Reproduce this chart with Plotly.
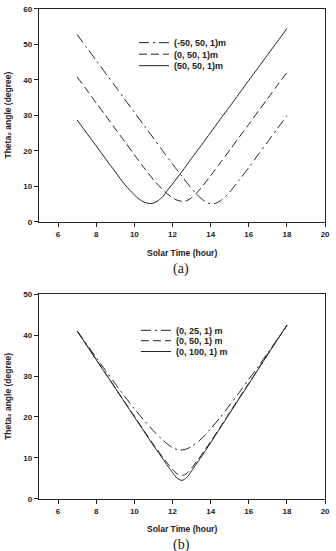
import plotly.graph_objects as go

# ---------------- data ----------------
# Panel (a)
TIME_A_DD = [7, 7.5, 8, 8.5, 9, 9.5, 10, 10.5, 11, 11.5, 12, 12.5, 13, 13.25, 13.5, 13.75, 14, 14.25, 14.5, 14.75, 15, 15.5, 16, 16.5, 17, 17.5, 18]
VAL_A_DD = [52.8, 49.1, 45.5, 41.8, 38.2, 34.5, 30.9, 27.2, 23.6, 19.9, 16.3, 12.8, 9.4, 7.9, 6.6, 5.6, 5.1, 5.2, 5.9, 7.0, 8.4, 11.8, 15.3, 19.0, 22.6, 26.3, 29.9]

TIME_A_DASH = [7, 7.5, 8, 8.5, 9, 9.5, 10, 10.5, 11, 11.5, 11.75, 12, 12.25, 12.5, 12.75, 13, 13.25, 13.5, 14, 14.5, 15, 15.5, 16, 16.5, 17, 17.5, 18]
VAL_A_DASH = [40.8, 37.2, 33.5, 29.9, 26.2, 22.6, 18.9, 15.3, 11.9, 9.0, 7.8, 6.8, 6.1, 5.8, 6.0, 6.8, 8.0, 9.6, 13.0, 16.6, 20.2, 23.9, 27.5, 31.2, 34.8, 38.5, 42.1]

TIME_A_SOLID = [7, 7.5, 8, 8.5, 9, 9.5, 10, 10.25, 10.5, 10.75, 11, 11.25, 11.5, 11.75, 12, 12.5, 13, 13.5, 14, 14.5, 15, 15.5, 16, 16.5, 17, 17.5, 18]
VAL_A_SOLID = [28.7, 25.0, 21.4, 17.7, 14.1, 10.5, 7.6, 6.4, 5.6, 5.2, 5.3, 6.0, 7.2, 9.0, 10.7, 14.2, 17.9, 21.5, 25.2, 28.9, 32.5, 36.2, 39.9, 43.5, 47.2, 50.8, 54.5]

NAMES_A = ["(-50, 50, 1)m", "(0, 50, 1)m", "(50, 50, 1)m"]

# Panel (b)
TIME_B_DD = [7, 7.5, 8, 8.5, 9, 9.5, 10, 10.5, 11, 11.5, 12, 12.35, 12.75, 13, 13.5, 14, 14.5, 15, 15.5, 16, 16.5, 17, 17.5, 18]
VAL_B_DD = [41.0, 37.8, 34.5, 31.3, 28.1, 25.0, 22.0, 19.2, 16.6, 14.3, 12.5, 11.9, 12.2, 12.8, 14.6, 17.1, 19.9, 22.9, 26.0, 29.2, 32.4, 35.7, 39.0, 42.4]

TIME_B = [7, 7.5, 8, 8.5, 9, 9.5, 10, 10.5, 11, 11.5, 11.75, 12, 12.25, 12.5, 12.75, 13, 13.25, 13.5, 14, 14.5, 15, 15.5, 16, 16.5, 17, 17.5, 18]
VAL_B_DASH = [41.0, 37.5, 34.0, 30.6, 27.1, 23.6, 20.2, 16.7, 13.3, 10.1, 8.6, 7.2, 6.1, 5.7, 6.2, 7.5, 9.0, 10.6, 14.0, 17.5, 21.1, 24.7, 28.2, 31.8, 35.4, 38.9, 42.4]
VAL_B_SOLID = [41.0, 37.5, 34.0, 30.5, 27.0, 23.5, 20.0, 16.5, 13.0, 9.7, 8.0, 6.4, 5.0, 4.5, 5.2, 6.8, 8.5, 10.2, 13.7, 17.3, 20.9, 24.5, 28.1, 31.7, 35.3, 38.9, 42.4]

NAMES_B = ["(0, 25, 1) m", "(0, 50, 1) m", "(0, 100, 1) m"]

X_TICKS = [6, 8, 10, 12, 14, 16, 18, 20]
Y_TICKS_A = [0, 10, 20, 30, 40, 50, 60]
Y_TICKS_B = [0, 10, 20, 30, 40, 50]

X_TITLE = "Solar Time (hour)"
Y_TITLE = "Theta\u2082 angle (degree)"

# ---------------- layout helpers ----------------
W, H = 336, 551
def fx(p):
    return p / W
def fy(p):
    return 1 - p / H

SANS = "Liberation Sans, Arial, sans-serif"
SERIF = "Liberation Serif, Times New Roman, serif"
INK = "#222222"

DASHDOT = "10px,4px,2px,4px"
DASH = "8px,4px"

fig = go.Figure()

series = [
    (TIME_A_DD, VAL_A_DD, NAMES_A[0], DASHDOT, "x", "y", "legend"),
    (TIME_A_DASH, VAL_A_DASH, NAMES_A[1], DASH, "x", "y", "legend2"),
    (TIME_A_SOLID, VAL_A_SOLID, NAMES_A[2], "solid", "x", "y", "legend3"),
    (TIME_B_DD, VAL_B_DD, NAMES_B[0], DASHDOT, "x2", "y2", "legend4"),
    (TIME_B, VAL_B_DASH, NAMES_B[1], DASH, "x2", "y2", "legend5"),
    (TIME_B, VAL_B_SOLID, NAMES_B[2], "solid", "x2", "y2", "legend6"),
]
for xs, ys, nm, dsh, xa, ya, lg in series:
    fig.add_trace(go.Scatter(
        x=xs, y=ys, mode="lines", name=nm,
        line=dict(color=INK, width=1, dash=dsh, shape="spline", smoothing=0.8),
        xaxis=xa, yaxis=ya, legend=lg, showlegend=True,
    ))

tickfont = dict(family=SANS, size=8, color=INK, weight="bold")

def xaxis(anchor):
    return dict(
        domain=[fx(39.6), fx(330)], range=[5, 20], anchor=anchor,
        tickmode="array", tickvals=X_TICKS, ticks="outside", ticklen=4,
        tickwidth=1, tickcolor=INK, showline=True, linecolor=INK, linewidth=1.3,
        mirror=True, showgrid=False, zeroline=False, tickfont=tickfont,
    )

def yaxis(anchor, dom, rng, tv):
    return dict(
        domain=dom, range=rng, anchor=anchor,
        tickmode="array", tickvals=tv, ticks="outside", ticklen=4,
        tickwidth=1, tickcolor=INK, showline=True, linecolor=INK, linewidth=1.3,
        mirror=True, showgrid=False, zeroline=False, tickfont=tickfont,
    )

legfont = dict(family=SANS, size=9, color=INK, weight="bold")

def leg(xp, yp):
    return dict(x=fx(xp), y=fy(yp), xanchor="left", yanchor="middle",
                bgcolor="rgba(0,0,0,0)", borderwidth=0, font=legfont,
                itemclick=False, itemdoubleclick=False)

ann_font = dict(family=SANS, size=8.5, color=INK, weight="bold")
annotations = [
    dict(text=X_TITLE, x=fx(184.8), y=fy(253), xref="paper", yref="paper",
         showarrow=False, font=ann_font, xanchor="center", yanchor="middle"),
    dict(text=X_TITLE, x=fx(184.8), y=fy(534), xref="paper", yref="paper",
         showarrow=False, font=ann_font, xanchor="center", yanchor="middle"),
    dict(text=Y_TITLE, x=fx(8.5), y=fy(113), xref="paper", yref="paper",
         showarrow=False, font=ann_font, textangle=-90, xanchor="center", yanchor="middle"),
    dict(text=Y_TITLE, x=fx(8.5), y=fy(399), xref="paper", yref="paper",
         showarrow=False, font=ann_font, textangle=-90, xanchor="center", yanchor="middle"),
    dict(text="(a)", x=fx(184), y=fy(269), xref="paper", yref="paper",
         showarrow=False, font=dict(family=SERIF, size=14, color=INK),
         xanchor="center", yanchor="middle"),
    dict(text="(b)", x=fx(184), y=fy(550), xref="paper", yref="paper",
         showarrow=False, font=dict(family=SERIF, size=14, color=INK),
         xanchor="center", yanchor="middle"),
]

fig.update_layout(
    width=W, height=H, margin=dict(l=0, r=0, t=0, b=0),
    paper_bgcolor="white", plot_bgcolor="white",
    xaxis=xaxis("y"),
    yaxis=yaxis("x", [fy(221.5), fy(5)], [0, 60], Y_TICKS_A),
    xaxis2=xaxis("y2"),
    yaxis2=yaxis("x2", [fy(503), fy(295)], [0, 50], Y_TICKS_B),
    legend=leg(136, 39.3),
    legend2=leg(136, 51),
    legend3=leg(136, 62.7),
    legend4=leg(138, 331.7),
    legend5=leg(138, 342.3),
    legend6=leg(138, 353.3),
    annotations=annotations,
    showlegend=True,
)

fig.write_html("out.html")
